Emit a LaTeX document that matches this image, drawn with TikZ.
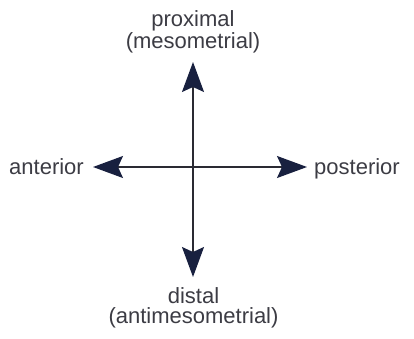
\documentclass[tikz,border=0pt]{standalone}
\usepackage{fontspec}
\setmainfont{Liberation Sans}
\usetikzlibrary{arrows.meta}
\definecolor{txt}{HTML}{3C3C44}
\definecolor{navy}{HTML}{18203F}
\definecolor{axis}{HTML}{2A2A33}
\tikzset{
  lbl/.style={text=txt, font=\fontsize{22}{20}\selectfont, inner sep=0pt, align=center},
  axisarrow/.style={draw=axis, line width=1.4pt,
    -{Stealth[length=30pt, width=22pt, inset=5pt, color=navy]}}
}
\begin{document}
\begin{tikzpicture}[x=1pt, y=-1pt]
\useasboundingbox (0,0) rectangle (414,339);
\coordinate (c) at (193,167);
\coordinate (top) at (193,62);
\coordinate (bot) at (193,277);
\coordinate (lft) at (93,167);
\coordinate (rgt) at (307,167);
\draw[axisarrow] (c) -- (top);
\draw[axisarrow] (c) -- (bot);
\draw[axisarrow] (c) -- (lft);
\draw[axisarrow] (c) -- (rgt);
\node[lbl] (prox) at (193,32) {proximal\\(mesometrial)};
\node[lbl] (dist) at (193.5,307.5) {distal\\(antimesometrial)};
\node[lbl, anchor=base east] (ant) at (84,174) {anterior};
\node[lbl, anchor=base west] (post) at (314,174) {posterior};
\end{tikzpicture}
\end{document}
